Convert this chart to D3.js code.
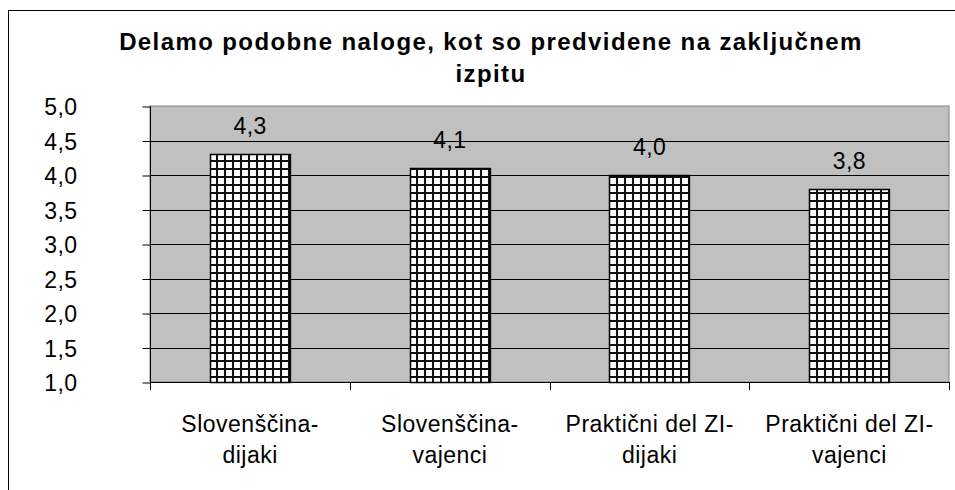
<!DOCTYPE html>
<html lang="sl">
<head>
<meta charset="UTF-8">
<title>Delamo podobne naloge</title>
<script src="https://d3js.org/d3.v7.min.js"></script>
<style>
  body { margin: 0; background: #fff; }
  text { font-family: "Liberation Sans", Arial, sans-serif; fill: #000; }
</style>
</head>
<body>
<script>
  // data
  var categories = [["Slovenščina-", "dijaki"], ["Slovenščina-", "vajenci"], ["Praktični del ZI-", "dijaki"], ["Praktični del ZI-", "vajenci"]];
  var values = [4.3, 4.1, 4.0, 3.8];
  var yTicks = [1.0, 1.5, 2.0, 2.5, 3.0, 3.5, 4.0, 4.5, 5.0];
  var titleLines = ["Delamo podobne naloge, kot so predvidene na zaključnem", "izpitu"];

  var width = 955, height = 490;
  var plot = { left: 150, right: 949, top: 106, bottom: 382 };

  var svg = d3.select('body').append('svg')
      .attr('width', width)
      .attr('height', height);

  // hatch pattern for the bars
  var defs = svg.append('defs');
  var pat = defs.append('pattern')
      .attr('id', 'grid')
      .attr('patternUnits', 'userSpaceOnUse')
      .attr('width', 8).attr('height', 8);
  pat.append('rect').attr('width', 8).attr('height', 8).attr('fill', '#fff');
  pat.append('rect').attr('x', 0).attr('y', 0).attr('width', 2).attr('height', 8).attr('fill', '#111');
  pat.append('rect').attr('x', 0).attr('y', 0).attr('width', 8).attr('height', 2).attr('fill', '#111');

  // outer chart frame
  svg.append('rect')
      .attr('x', 8.5).attr('y', 10.5)
      .attr('width', 1000).attr('height', 600)
      .attr('fill', 'none').attr('stroke', '#000').attr('stroke-width', 1);

  var x = d3.scaleBand()
      .domain(d3.range(categories.length))
      .range([plot.left, plot.right])
      .paddingInner(0.6).paddingOuter(0.3);

  var y = d3.scaleLinear()
      .domain([1, 5])
      .range([plot.bottom, plot.top]);

  var fmt = function(v) { return d3.format('.1f')(v).replace('.', ','); };

  // plot background
  svg.append('rect')
      .attr('x', plot.left).attr('y', plot.top)
      .attr('width', plot.right - plot.left).attr('height', plot.bottom - plot.top)
      .attr('fill', '#c0c0c0').attr('stroke', '#808080').attr('stroke-width', 1);

  // gridlines
  svg.append('g').selectAll('line')
      .data(yTicks.slice(1, -1))
      .enter().append('line')
      .attr('x1', plot.left).attr('x2', plot.right)
      .attr('y1', function(d) { return Math.round(y(d)) + 0.5; })
      .attr('y2', function(d) { return Math.round(y(d)) + 0.5; })
      .attr('stroke', '#000');

  // bars
  svg.append('g').selectAll('rect')
      .data(values)
      .enter().append('rect')
      .attr('x', function(d, i) { return Math.round(x(i)) + 0.5; })
      .attr('y', function(d) { return Math.round(y(d)) + 0.5; })
      .attr('width', x.bandwidth())
      .attr('height', function(d) { return Math.round(y(1)) - Math.round(y(d)); })
      .attr('fill', 'url(#grid)')
      .attr('stroke', '#000').attr('stroke-width', 1.5);

  // value labels
  svg.append('g').selectAll('text')
      .data(values)
      .enter().append('text')
      .attr('x', function(d, i) { return x(i) + x.bandwidth() / 2 + 0.3; })
      .attr('y', function(d) { return y(d) - 20; })
      .attr('text-anchor', 'middle')
      .style('font-size', '23px').style('letter-spacing', '0.4px')
      .text(fmt);

  // y axis
  var yAxis = svg.append('g')
      .attr('transform', 'translate(' + (plot.left + 0.5) + ',0.5)')
      .call(d3.axisLeft(y).tickValues(yTicks).tickFormat(fmt).tickSize(8).tickPadding(65));
  yAxis.select('.domain').attr('stroke', '#000').attr('d', 'M0,' + plot.top + 'V' + plot.bottom);
  yAxis.selectAll('text').style('font-size', '23px').style('letter-spacing', '0.4px').attr('dy', '0.35em')
      .style('font-family', '"Liberation Sans", Arial, sans-serif').attr('fill', '#000');

  // x axis
  var edges = d3.range(categories.length + 1).map(function(i) { return plot.left + i * (plot.right - plot.left) / categories.length; });
  var xAxis = svg.append('g');
  xAxis.append('line')
      .attr('x1', plot.left).attr('x2', plot.right)
      .attr('y1', plot.bottom + 0.5).attr('y2', plot.bottom + 0.5)
      .attr('stroke', '#000');
  xAxis.selectAll('.tk')
      .data(edges)
      .enter().append('line')
      .attr('x1', function(d) { return Math.round(d) + 0.5; })
      .attr('x2', function(d) { return Math.round(d) + 0.5; })
      .attr('y1', plot.bottom).attr('y2', plot.bottom + 8)
      .attr('stroke', '#000');

  var lbl = xAxis.selectAll('.lbl')
      .data(categories)
      .enter().append('text')
      .attr('text-anchor', 'middle')
      .style('font-size', '23px').style('letter-spacing', '0.5px')
      .attr('transform', function(d, i) { return 'translate(' + (x(i) + x.bandwidth() / 2 + 0.3) + ',432)'; });
  lbl.selectAll('tspan')
      .data(function(d) { return d; })
      .enter().append('tspan')
      .attr('x', 0)
      .attr('dy', function(d, j) { return j === 0 ? 0 : 31; })
      .text(function(d) { return d; });

  // title
  svg.append('text')
      .attr('x', 491).attr('y', 50)
      .attr('text-anchor', 'middle')
      .style('font-size', '24px').style('font-weight', 'bold').style('letter-spacing', '1.4px')
      .selectAll('tspan')
      .data(titleLines)
      .enter().append('tspan')
      .attr('x', 491)
      .attr('dy', function(d, i) { return i === 0 ? 0 : 32; })
      .text(function(d) { return d; });
</script>
</body>
</html>
